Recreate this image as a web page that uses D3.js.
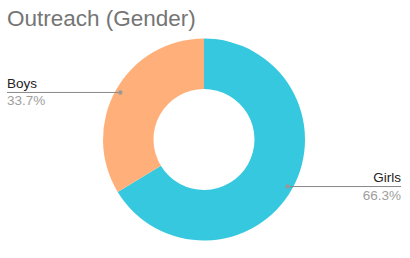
<!DOCTYPE html>
<html>
<head>
<meta charset="utf-8">
<script src="https://cdn.jsdelivr.net/npm/d3@7"></script>
<style>
  body { margin: 0; background: #fff; }
  text { font-family: "Liberation Sans", Arial, sans-serif; }
</style>
</head>
<body>
<div id="wrapper"></div>
<script>
const categories = ['Girls', 'Boys']
const values = [66.3, 33.7]
const colors = ['#35c8de', '#ffb07a']

function drawDonut() {
  const dimensions = {
    width: 410,
    height: 258,
    cx: 204,
    cy: 139.5,
    outer: 101,
    inner: 50.5
  }

  const svg = d3.select('#wrapper')
    .append('svg')
      .attr('width', dimensions.width)
      .attr('height', dimensions.height)

  svg.append('text')
    .attr('x', 7)
    .attr('y', 26)
    .attr('font-size', 22.5)
    .attr('fill', '#757575')
    .text('Outreach (Gender)')

  const data = categories.map((c, i) => ({ name: c, value: values[i], color: colors[i] }))

  const pie = d3.pie().sort(null).value(d => d.value)
  const arcs = pie(data)

  const arc = d3.arc().innerRadius(dimensions.inner).outerRadius(dimensions.outer)
  const dotArc = d3.arc().innerRadius(96).outerRadius(96)

  const bounds = svg.append('g')
    .attr('transform', `translate(${dimensions.cx}, ${dimensions.cy})`)

  bounds.selectAll('path')
    .data(arcs)
    .enter().append('path')
      .attr('d', arc)
      .attr('fill', d => d.data.color)

  //labels with leader lines
  const labels = svg.append('g')
  arcs.forEach(d => {
    const [px, py] = dotArc.centroid(d)
    const x = dimensions.cx + px
    const y = dimensions.cy + py
    const right = x > dimensions.cx
    const endX = right ? 401 : 7

    labels.append('line')
      .attr('x1', x).attr('y1', y)
      .attr('x2', endX).attr('y2', y)
      .attr('stroke', '#888')
      .attr('stroke-width', 1)

    labels.append('circle')
      .attr('cx', x).attr('cy', y)
      .attr('r', 2.2)
      .attr('fill', '#999')

    labels.append('text')
      .attr('x', endX)
      .attr('y', y - 4.5)
      .attr('text-anchor', right ? 'end' : 'start')
      .attr('font-size', 13.5)
      .attr('fill', '#222')
      .text(d.data.name)

    labels.append('text')
      .attr('x', endX)
      .attr('y', y + 13)
      .attr('text-anchor', right ? 'end' : 'start')
      .attr('font-size', 13.5)
      .attr('fill', '#9e9e9e')
      .text(d.data.value.toFixed(1) + '%')
  })
}

drawDonut()
</script>
</body>
</html>
